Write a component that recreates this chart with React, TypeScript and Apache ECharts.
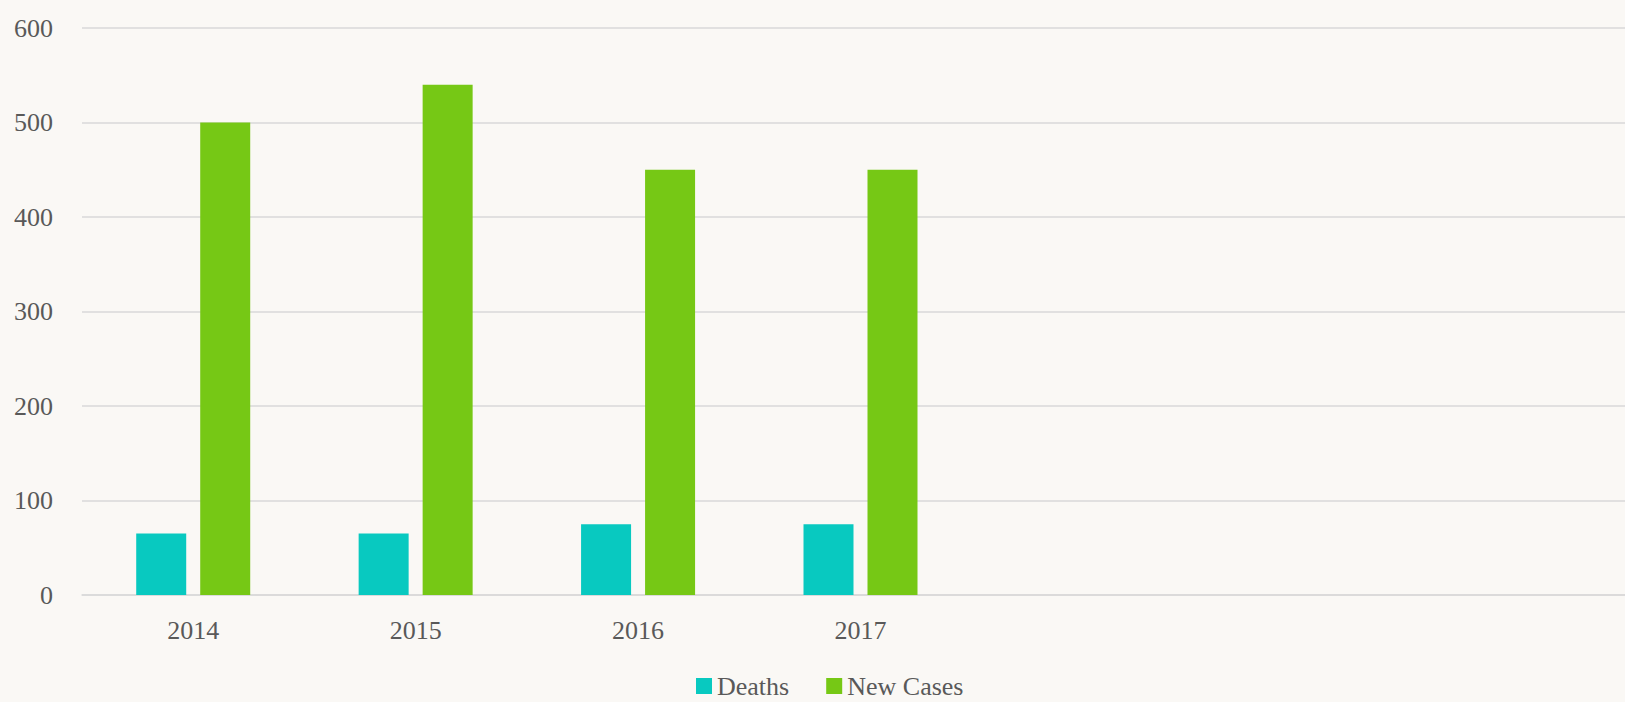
import React, { useEffect, useRef } from "react";
import * as echarts from "echarts";

const categories = ["2014", "2015", "2016", "2017", "", "", ""];
const deaths = [65, 65, 75, 75, null, null, null];
const newCases = [500, 540, 450, 450, null, null, null];
const yTicks = { min: 0, max: 600, interval: 100 };

const FONT = "'Palatino Linotype', 'Book Antiqua', Palatino, 'Liberation Serif', serif";
const TEXT = "#595959";
const GRID = "#d9d9d9";

export default function App() {
  const ref = useRef<HTMLDivElement>(null);
  useEffect(() => {
    const chart = echarts.init(ref.current!, null, { renderer: "svg" });
    chart.setOption({
      animation: false,
      backgroundColor: "#faf8f5",
      textStyle: { fontFamily: FONT },
      grid: { left: 82, right: 0, top: 28, bottom: 107, containLabel: false },
      legend: {
        left: 696,
        top: 673,
        padding: 0,
        itemWidth: 16,
        itemHeight: 16,
        itemGap: 37,
        icon: "rect",
        textStyle: { color: TEXT, fontSize: 26, fontFamily: FONT },
        data: ["Deaths", "New Cases"],
      },
      xAxis: {
        type: "category",
        data: categories,
        axisLine: { show: true, lineStyle: { color: GRID, width: 1.5 } },
        axisTick: { show: false },
        axisLabel: { color: TEXT, fontSize: 26, fontFamily: FONT, margin: 22 },
      },
      yAxis: {
        type: "value",
        min: yTicks.min,
        max: yTicks.max,
        interval: yTicks.interval,
        axisLine: { show: false },
        axisTick: { show: false },
        splitLine: { lineStyle: { color: GRID, width: 1.5 } },
        axisLabel: { color: TEXT, fontSize: 26, fontFamily: FONT, margin: 29 },
      },
      series: [
        {
          name: "Deaths",
          type: "bar",
          data: deaths,
          barWidth: 50,
          barGap: "28%",
          itemStyle: { color: "#08c9c0" },
        },
        {
          name: "New Cases",
          type: "bar",
          data: newCases,
          barWidth: 50,
          barGap: "28%",
          itemStyle: { color: "#76c815" },
        },
      ],
    });
    return () => chart.dispose();
  }, []);
  return (
    <div style={{ position: "fixed", left: 0, top: 0, width: 1625, height: 702, overflow: "hidden" }}>
      <div ref={ref} style={{ width: 1639, height: 702 }} />
    </div>
  );
}
